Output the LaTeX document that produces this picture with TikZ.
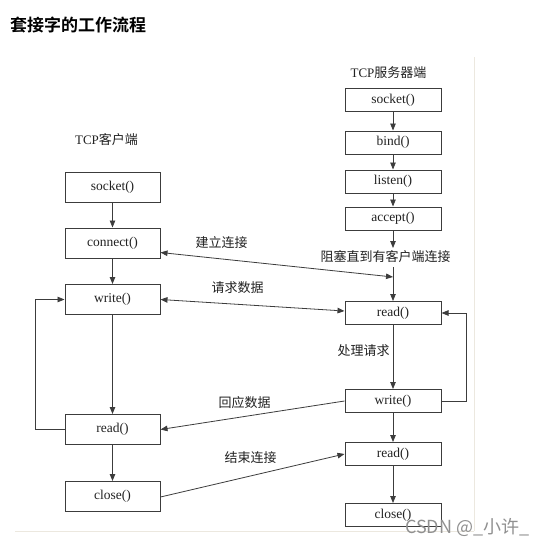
\documentclass[tikz,border=0pt]{standalone}
\usepackage{fontspec}
\setmainfont{Liberation Serif}
\newfontfamily\cjk{Noto Sans CJK SC}
\newfontfamily\cjkb{Noto Sans CJK SC Bold}
\usetikzlibrary{arrows.meta,calc}
\definecolor{boxline}{HTML}{3C3C3C}
\definecolor{txt}{HTML}{222222}
\definecolor{pageline}{HTML}{ECE8DF}
\definecolor{wm}{HTML}{909090}
\tikzset{
  fn/.style={draw=boxline, line width=1pt, fill=white, text=txt, inner sep=0pt,
             font=\fontsize{13.5}{15}\selectfont},
  cbox/.style={fn, minimum width=95pt, minimum height=30pt},
  sbox/.style={fn, minimum width=96pt, minimum height=23pt},
  lbl/.style={text=txt, inner sep=1pt, font=\fontsize{13}{15}\selectfont\cjk},
  hdr/.style={text=txt, inner sep=1pt, font=\fontsize{13}{15}\selectfont},
  conn/.style={draw=boxline, line width=0.8pt},
  arr/.style={conn, -{Triangle[length=7pt,width=5.5pt]}},
  darr/.style={conn, {Triangle[length=7pt,width=5.5pt]}-{Triangle[length=7pt,width=5.5pt]}},
}
\begin{document}
\begin{tikzpicture}[x=1pt,y=-1pt]
\useasboundingbox (0,0) rectangle (552,546);
\fill[white] (0,0) rectangle (552,546);
% faint page borders
\draw[pageline, line width=0.8pt] (474,57) -- (474,531);
\draw[pageline, line width=0.8pt] (15,531) -- (474,531);
% title
\node[anchor=west, inner sep=0pt, font=\fontsize{17}{19}\selectfont\cjkb, text=black] (title) at (10,25) {套接字的工作流程};
% column headers
\node[hdr] (chead) at (106.5,140) {TCP{\cjk 客户端}};
\node[hdr] (shead) at (388.5,73) {TCP{\cjk 服务器端}};
% client boxes
\node[cbox] (csocket) at (112.5,187.5) {socket()};
\node[cbox] (cconnect) at (112.5,243) {connect()};
\node[cbox] (cwrite) at (112.5,299.5) {write()};
\node[cbox] (cread) at (112.5,429.5) {read()};
\node[cbox] (cclose) at (112.5,496.5) {close()};
% server boxes
\node[sbox] (ssocket) at (393,100) {socket()};
\node[sbox] (sbind) at (393,142.5) {bind()};
\node[sbox] (slisten) at (393,181.5) {listen()};
\node[sbox] (saccept) at (393,218.5) {accept()};
\node[sbox] (sread) at (393,313) {read()};
\node[sbox] (swrite) at (393,401) {write()};
\node[sbox] (sread2) at (393,454) {read()};
\node[sbox] (sclose) at (393,515) {close()};
% labels
\node[lbl] (lblock) at (385.5,257) {阻塞直到有客户端连接};
\node[lbl] (lconn) at (221.5,243) {建立连接};
\node[lbl] (lreq) at (237.5,288) {请求数据};
\node[lbl] (lproc) at (363.5,351) {处理请求};
\node[lbl] (lresp) at (244.5,403) {回应数据};
\node[lbl] (lend) at (250.5,458) {结束连接};
% client flow
\draw[arr] (csocket) -- (cconnect);
\draw[arr] (cconnect) -- (cwrite);
\draw[arr] (cwrite) -- (cread);
\draw[arr] (cread) -- (cclose);
\draw[arr] (cread.west) -- ++(-29,0) |- (cwrite.west);
% server flow
\draw[arr] (ssocket) -- (sbind);
\draw[arr] (sbind) -- (slisten);
\draw[arr] (slisten) -- (saccept);
\coordinate (bk1) at (393,248);
\coordinate (bk2) at (393,267);
\coordinate (meet) at (393,277);
\draw[arr] (saccept) -- (bk1);
\draw[arr] (bk2) -- (sread);
\draw[arr] (sread) -- (swrite);
\draw[arr] (swrite) -- (sread2);
\draw[arr] (sread2) -- (sclose);
\draw[arr] (swrite.east) -- ++(25,0) |- (sread.east);
% exchanges
\draw[darr] ($(cconnect.south east)+(0,-6)$) -- (meet);
\draw[darr] (cwrite.east) -- ($(sread.west)+(0,-2)$);
\draw[arr] (swrite.west) -- (cread.east);
\draw[arr] ($(cclose.east)+(0,0.5)$) -- (sread2.west);
% watermark
\node[anchor=west, inner sep=0pt, text=wm, font=\fontsize{18}{20}\selectfont\cjk] (wmark) at (405,527) {CSDN @\_小许\_};
\end{tikzpicture}
\end{document}
